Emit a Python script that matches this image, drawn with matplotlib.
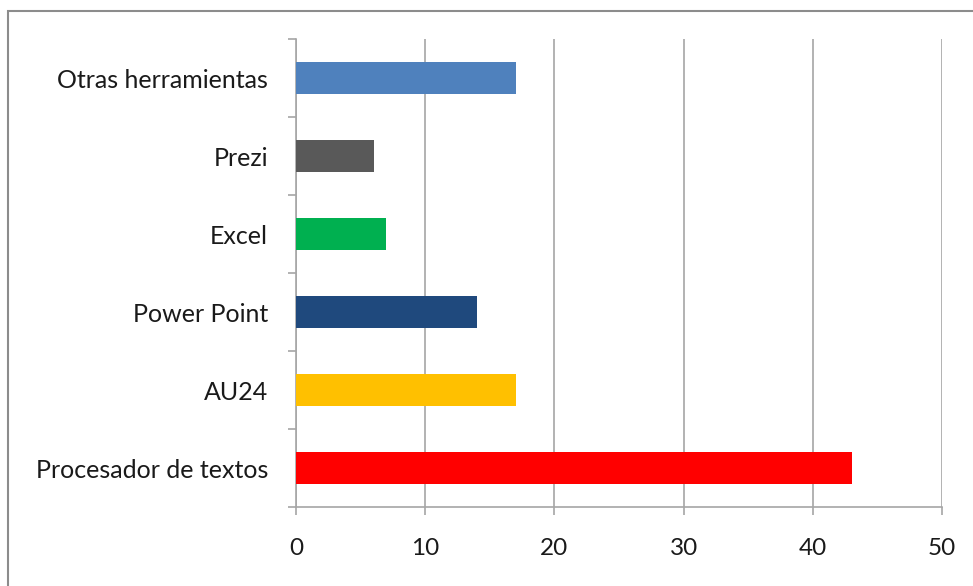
import matplotlib
matplotlib.use("Agg")
import matplotlib.pyplot as plt
from matplotlib.patches import Rectangle

# Data (bottom to top as drawn)
categories = ['Procesador de textos', 'AU24', 'Power Point', 'Excel', 'Prezi', 'Otras herramientas']
values = [43, 17, 14, 7, 6, 17]
colors = ['#FF0000', '#FFC000', '#1F497D', '#00B050', '#595959', '#4F81BD']
x_ticks = [0, 10, 20, 30, 40, 50]

plt.rcParams['font.family'] = ['Lato', 'DejaVu Sans']

W, H = 973, 586
fig = plt.figure(figsize=(W / 100, H / 100), dpi=100)
ax = fig.add_axes([296 / W, 1 - 507 / H, (942 - 296) / W, (507 - 39) / H])

pos = list(range(len(categories)))
ax.barh(pos, values, height=0.4, color=colors, zorder=3)

ax.set_xlim(0, 50)
ax.set_ylim(-0.5, len(categories) - 0.5)
ax.set_xticks(x_ticks)
ax.set_xticklabels([str(t) for t in x_ticks])
ax.set_yticks(pos)
ax.set_yticklabels(categories)
ax.set_yticks([p - 0.5 for p in pos] + [len(categories) - 0.5], minor=True)

grid_col = '#A6A6A6'
ax.grid(axis='x', color=grid_col, linewidth=1.2, zorder=0)
for s in ['top', 'right']:
    ax.spines[s].set_visible(False)
for s in ['left', 'bottom']:
    ax.spines[s].set_color(grid_col)
    ax.spines[s].set_linewidth(1.2)

ax.tick_params(axis='y', which='major', length=0, pad=20, labelsize=18, labelcolor='#1a1a1a')
ax.tick_params(axis='y', which='minor', length=6, width=1.2, color=grid_col)
ax.tick_params(axis='x', length=6, width=1.2, color=grid_col, pad=16, labelsize=17.5, labelcolor='#1a1a1a')

# outer chart border
fig.add_artist(Rectangle((8 / W, -0.5), 2, 1.5 - 11 / H, transform=fig.transFigure,
                         fill=False, edgecolor='#8C8C8C', linewidth=1.5))

fig.savefig('out.png', dpi=100)
